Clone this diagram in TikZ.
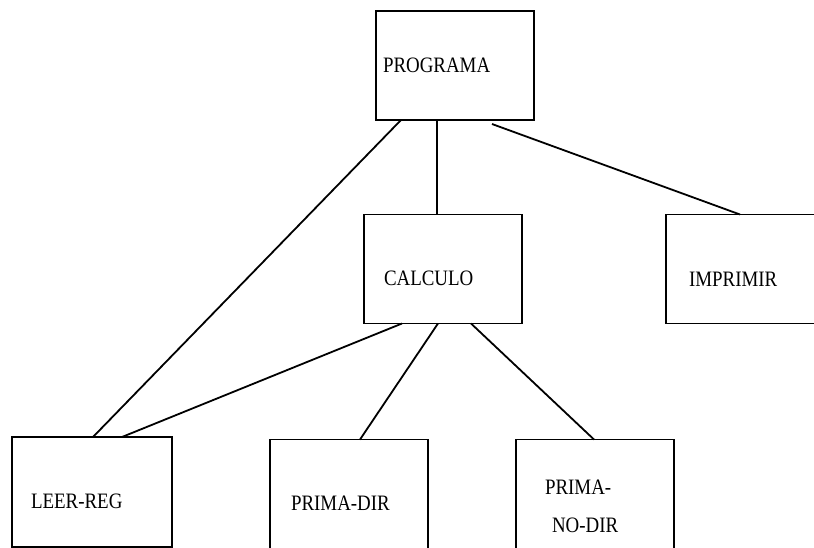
\documentclass[tikz,border=0pt]{standalone}
\usepackage{fontspec}
\setmainfont[FakeStretch=0.86]{Liberation Serif}
\begin{document}
\begin{tikzpicture}[x=1pt,y=-1pt,
  box/.style={draw, line width=1.8pt, inner sep=0pt, outer sep=0pt, minimum width=158pt, minimum height=109pt},
  lbl/.style={anchor=base west, inner sep=0pt, outer sep=0pt, font=\fontsize{22}{26}\selectfont},
  link/.style={line width=1.8pt}]
\useasboundingbox (0,0) rectangle (814,548);
\clip (0,0) rectangle (814,548);
% boxes
\node[box] (prog) at (455,65.5) {};
\node[box] (calc) at (443,269) {};
\node[box] (impr) at (745,269) {};
\node[box, minimum width=160pt, minimum height=110pt] (leer) at (92,492) {};
\node[box] (pdir) at (349,494) {};
\node[box] (pnd) at (595,494) {};
% labels
\node[lbl] (tprog) at (383,73) {PROGRAMA};
\node[lbl] (tcalc) at (384,285) {CALCULO};
\node[lbl] (timpr) at (689,287) {IMPRIMIR};
\node[lbl] (tleer) at (31,508) {LEER-REG};
\node[lbl] (tpdir) at (291,510) {PRIMA-DIR};
\node[lbl] (tpnd1) at (545,494) {PRIMA-};
\node[lbl] (tpnd2) at (552,532) {NO-DIR};
% connectors
\draw[link] ([xshift=25pt]prog.south west) -- ([xshift=81pt]leer.north west);
\draw[link] ([xshift=61pt]prog.south west) -- ([xshift=73pt]calc.north west);
\draw[link] ([xshift=116pt,yshift=-4pt]prog.south west) -- ([xshift=74pt]impr.north west);
\draw[link] ([xshift=38pt]calc.south west) -- ([xshift=110pt]leer.north west);
\draw[link] ([xshift=74pt]calc.south west) -- ([xshift=90pt]pdir.north west);
\draw[link] ([xshift=107pt]calc.south west) -- ([xshift=78pt]pnd.north west);
\end{tikzpicture}
\end{document}
